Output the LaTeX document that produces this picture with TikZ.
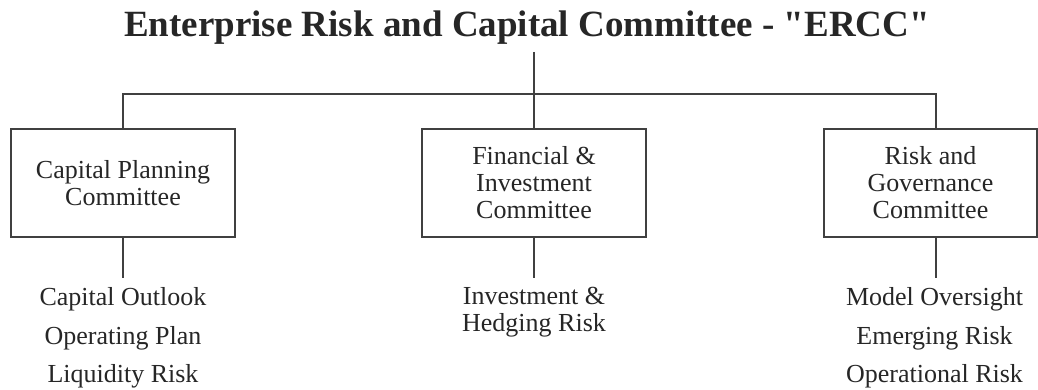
\documentclass[tikz,border=0pt]{standalone}
\usepackage{fontspec}
\setmainfont{Liberation Serif}
\usetikzlibrary{positioning}
\tikzstyle{committee} = [rectangle, 
			draw = black!75, 
			line width = 1.3pt, 
			text = black!85, 
			align = center, 
			font = \fontsize{26}{27}\selectfont, 
			minimum width = 224pt, 
			minimum height = 108pt]
\tikzstyle{duties} = [align = center, 
			text = black!85, 
			inner sep = 2pt, 
			outer sep = 8pt, 
			font = \fontsize{26}{38.5}\selectfont]
\tikzstyle{wire} = [draw = black!75, 
			line width = 1.3pt]

\begin{document}
\begin{tikzpicture}[x = 1pt, y = 1pt, node distance = 40pt]
	\useasboundingbox (0,0) rectangle (1038,389);
	\node [anchor = base, inner sep = 7pt, text = black!85, font = \fontsize{37}{40}\selectfont\bfseries] (ercc) at (527,352.3) {Enterprise Risk and Capital Committee - \textquotedbl ERCC\textquotedbl};
	\node [committee] (capital) at (123,206) {Capital Planning\\Committee};
	\node [committee] (finance) at (534,206) {Financial \&\\Investment\\Committee};
	\node [committee, minimum width = 213pt] (risk) at (930.5,206) {Risk and\\Governance\\Committee};
	\node [duties, below = of capital] (capitallist) {Capital Outlook\\Operating Plan\\Liquidity Risk};
	\node [duties, below = of finance, font = \fontsize{26}{27}\selectfont] (financelist) {Investment \&\\Hedging Risk};
	\node [duties, below = of risk, xshift = 4pt] (risklist) {Model Oversight\\Emerging Risk\\Operational Risk};
	\coordinate (bus) at (534,295);
	\draw [wire] (ercc.south -| finance) -- (finance.north);
	\draw [wire] (capital.north) |- (bus) -| ([xshift = 5.5pt]risk.north);
	\draw [wire] (capital.south) -- (capitallist.north);
	\draw [wire] (finance.south) -- (financelist.north);
	\draw [wire] ([xshift = 5.5pt]risk.south) -- ([xshift = 1.5pt]risklist.north);
\end{tikzpicture}
\end{document}
